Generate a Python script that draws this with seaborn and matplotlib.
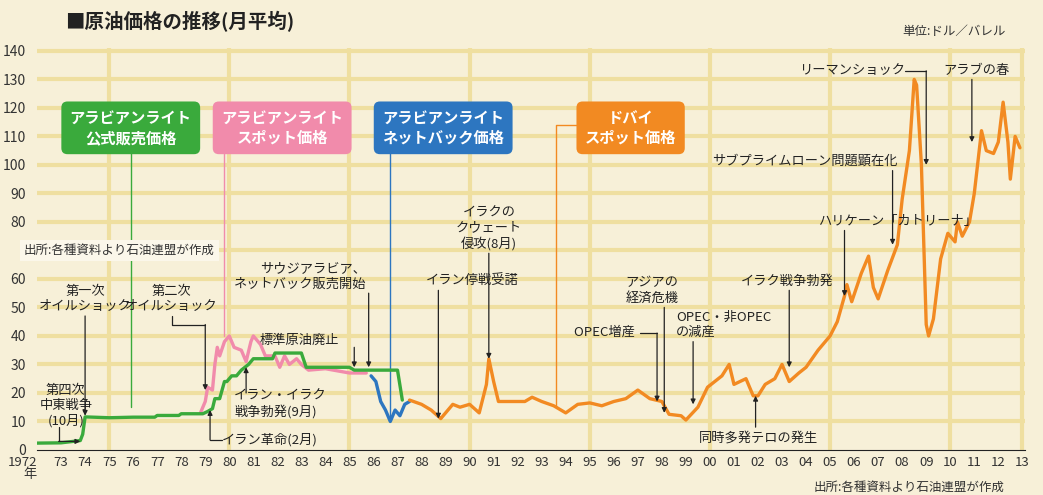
import numpy as np
import pandas as pd
import matplotlib
matplotlib.use("Agg")
import matplotlib.pyplot as plt
import seaborn as sns

# --- data (year, $/barrel) ---
green_x = [1972.0, 1973.0, 1973.5, 1973.8, 1973.9, 1974.0, 1975.0, 1976.0, 1976.9, 1977.0, 1977.9, 1978.0, 1978.9,
           1979.1, 1979.3, 1979.4, 1979.6, 1979.8, 1979.9, 1980.1, 1980.3, 1980.5, 1980.8, 1981.0, 1981.8, 1981.9,
           1983.0, 1983.2, 1985.0, 1985.2, 1987.0, 1987.2]
green_y = [2.4, 2.5, 3.0, 3.3, 5.5, 11.6, 11.3, 11.5, 11.5, 12.1, 12.1, 12.7, 12.7,
           13.5, 14.5, 18.0, 18.0, 24.0, 24.0, 26.0, 26.0, 28.0, 30.0, 32.0, 32.0, 34.0,
           34.0, 29.0, 29.0, 28.0, 28.0, 17.5]
pink_x = [1978.8, 1979.0, 1979.1, 1979.3, 1979.4, 1979.5, 1979.6, 1979.8, 1980.0, 1980.2, 1980.5, 1980.7, 1980.9,
          1981.0, 1981.3, 1981.5, 1981.9, 1982.1, 1982.3, 1982.5, 1982.8, 1983.0, 1983.3, 1984.0, 1985.0, 1985.7]
pink_y = [13, 17, 22, 21, 30, 36, 33, 38, 40, 36, 35, 31, 38,
          40, 37, 33, 33, 29, 33, 30, 32, 30, 28, 28.5, 27, 27]
blue_x = [1985.9, 1986.1, 1986.3, 1986.5, 1986.7, 1986.9, 1987.1, 1987.3, 1987.5]
blue_y = [26, 24, 17, 14, 10, 14, 12, 16, 17]
orange_x = [1987.5, 1988.0, 1988.4, 1988.8, 1989.0, 1989.3, 1989.6, 1990.0, 1990.4, 1990.7, 1990.8, 1991.0,
            1991.2, 1991.6, 1992.0, 1992.3, 1992.6, 1993.0, 1993.5, 1994.0, 1994.5, 1995.0, 1995.5, 1996.0,
            1996.5, 1997.0, 1997.5, 1998.0, 1998.3, 1998.8, 1999.0, 1999.5, 1999.9, 2000.2, 2000.5, 2000.8,
            2001.0, 2001.5, 2001.8, 2002.0, 2002.3, 2002.7, 2003.0, 2003.3, 2003.7, 2004.0, 2004.5, 2005.0,
            2005.3, 2005.6, 2005.7, 2005.9, 2006.3, 2006.6, 2006.8, 2007.0, 2007.4, 2007.8, 2008.0, 2008.3,
            2008.5, 2008.6, 2008.8, 2009.0, 2009.1, 2009.3, 2009.6, 2009.9, 2010.2, 2010.3, 2010.5, 2010.8,
            2011.0, 2011.3, 2011.5, 2011.8, 2012.0, 2012.2, 2012.4, 2012.5, 2012.7, 2012.9]
orange_y = [17.5, 16, 14, 11, 13, 16, 15, 16, 13, 23, 32, 24,
            17, 17, 17, 17, 18.5, 17, 15.5, 13, 16, 16.5, 15.5, 17,
            18, 21, 18, 17, 12.5, 12, 10.5, 15, 22, 24, 26, 30,
            23, 25, 19, 19, 23, 25, 30, 24, 27, 29, 35, 40,
            45, 54, 58, 52, 62, 68, 57, 53, 63, 72, 88, 105,
            130, 128, 100, 44, 40, 46, 67, 76, 73, 80, 75, 80,
            90, 112, 105, 104, 108, 122, 108, 95, 110, 106]

years = list(range(1972, 2014))
year_labels = ["1972\n年"] + [f"{y % 100:02d}" for y in years[1:]]
y_ticks = [0, 10, 20, 30, 40, 50, 60, 80, 90, 100, 110, 120, 130, 140]

GREEN, PINK, BLUE, ORANGE = "#3aaa3c", "#f18bab", "#2d76c0", "#f28a22"
BG = "#f7f0d8"
GRID = "#efdfa0"
INK = "#222222"

sns.set_style("white")
plt.rcParams["font.family"] = ["Noto Sans CJK JP", "DejaVu Sans"]

fig = plt.figure(figsize=(10.43, 4.95), dpi=100, facecolor=BG)
ax = fig.add_axes([0.0355, 0.091, 0.947, 0.812])
ax.set_facecolor(BG)

for xs, ys, c, z in [(pink_x, pink_y, PINK, 3), (green_x, green_y, GREEN, 4),
                     (blue_x, blue_y, BLUE, 3), (orange_x, orange_y, ORANGE, 3)]:
    sns.lineplot(x=xs, y=ys, color=c, lw=2.4, ax=ax, sort=False, zorder=z)

ax.set_xlim(1972, 2013.1)
ax.set_ylim(0, 141)
for v in range(10, 150, 10):
    ax.axhline(v, color=GRID, lw=3, zorder=1)
for v in [1975, 1980, 1985, 1990, 1995, 2000, 2005, 2010, 2013]:
    ax.axvline(v, color=GRID, lw=3, zorder=1)
for s in ["top", "right", "left"]:
    ax.spines[s].set_visible(False)
ax.spines["bottom"].set_color(INK)
ax.set_xticks(years)
ax.set_xticklabels(year_labels, fontsize=9.5, color="#333333")
ax.get_xticklabels()[0].set_horizontalalignment("right")
ax.get_xticklabels()[0].set_linespacing(0.95)
ax.set_yticks(y_ticks)
ax.set_yticklabels([str(v) for v in y_ticks], fontsize=10, color="#333333")
ax.tick_params(axis="x", direction="in", length=7, color=INK, pad=4)
ax.tick_params(axis="y", length=0, pad=8)
ax.set_xlabel("")
ax.set_ylabel("")

fig.text(0.062, 0.978, "■原油価格の推移(月平均)", fontsize=14, fontweight="bold", color=INK, va="top")
fig.text(0.865, 0.93, "単位:ドル／バレル", fontsize=9, color="#333333")
fig.text(0.78, 0.008, "出所:各種資料より石油連盟が作成", fontsize=9, color="#333333")
ax.text(1972.0, 70, "出所:各種資料より石油連盟が作成", fontsize=9, color="#333333", va="center", ha="right",
        bbox=dict(boxstyle="square,pad=0.3", fc="#fbf7ea", ec="none"), zorder=5, clip_on=False).set_x(1979.4)

# legend boxes with connector lines
boxes = [("アラビアンライト\n公式販売価格", 1975.9, GREEN, None, 15),
         ("アラビアンライト\nスポット価格", 1982.2, PINK, 1979.8, 40),
         ("アラビアンライト\nネットバック価格", 1988.9, BLUE, 1986.7, 12),
         ("ドバイ\nスポット価格", 1996.7, ORANGE, 1993.6, 15)]
for txt, bx, c, lx, ly in boxes:
    ax.text(bx, 113, txt, ha="center", va="center", fontsize=11, fontweight="bold", color="white",
            linespacing=1.3, bbox=dict(boxstyle="round,pad=0.55,rounding_size=0.4", fc=c, ec="none"), zorder=6)
    if lx is None:
        ax.plot([bx, bx], [104, ly], color=c, lw=1, zorder=2)
    else:
        ax.plot([bx - 1.5, lx, lx], [114, 114, ly], color=c, lw=1, zorder=2)

fs = 9.5
def path_arrow(pts):
    xs, ys = zip(*pts)
    ax.plot(xs[:-1], ys[:-1], color=INK, lw=0.9, zorder=7)
    ax.annotate("", xy=pts[-1], xytext=pts[-2],
                arrowprops=dict(arrowstyle="-|>", color=INK, lw=0.9, mutation_scale=7, shrinkA=0, shrinkB=0), zorder=7)

def label(x, y, t, ha="center", va="bottom"):
    ax.text(x, y, t, ha=ha, va=va, fontsize=fs, color=INK, linespacing=1.2, zorder=7)

label(1973.2, 8, "第四次\n中東戦争\n(10月)")
path_arrow([(1972.9, 8), (1972.9, 3), (1973.8, 3)])
label(1974.0, 48, "第一次\nオイルショック")
path_arrow([(1974.0, 47), (1974.0, 12)])
label(1977.6, 48, "第二次\nオイルショック")
path_arrow([(1977.6, 47), (1977.6, 44), (1979.0, 44), (1979.0, 21)])
label(1982.9, 36, "標準原油廃止")
path_arrow([(1985.2, 36), (1985.2, 29)])
label(1985.7, 56, "サウジアラビア、\nネットバック販売開始", ha="right")
path_arrow([(1985.8, 55), (1985.8, 29)])
label(1990.1, 57, "イラン停戦受諾")
path_arrow([(1988.7, 56), (1988.7, 11)])
label(1990.8, 70, "イラクの\nクウェート\n侵攻(8月)")
path_arrow([(1990.8, 69), (1990.8, 32)])
label(1980.2, 11, "イラン・イラク\n戦争勃発(9月)", ha="left")
path_arrow([(1980.7, 20), (1980.7, 29)])
label(1979.7, 3.5, "イラン革命(2月)", ha="left", va="center")
path_arrow([(1979.7, 3.5), (1979.2, 3.5), (1979.2, 14)])
label(1997.6, 51, "アジアの\n経済危機")
path_arrow([(1998.1, 50), (1998.1, 13)])
label(1997.0, 39, "OPEC増産 ", ha="right")
path_arrow([(1997.1, 41), (1997.8, 41), (1997.8, 17)])
label(1998.6, 39, "OPEC・非OPEC\nの減産", ha="left")
path_arrow([(1999.3, 38), (1999.3, 16)])
label(2001.3, 57, "イラク戦争勃発", ha="left")
path_arrow([(2003.3, 56), (2003.3, 29)])
label(2004.5, 78, "ハリケーン「カトリーナ」", ha="left")
path_arrow([(2005.6, 77), (2005.6, 54)])
label(2007.8, 99, "サブプライムローン問題顕在化", ha="right")
path_arrow([(2007.6, 98), (2007.6, 72)])
label(2011.1, 131, "アラブの春")
path_arrow([(2010.9, 130), (2010.9, 108)])
label(2008.1, 133, "リーマンショック", ha="right", va="center")
path_arrow([(2008.1, 133), (2009.0, 133), (2009.0, 100)])
label(2002.0, 4, "同時多発テロの発生", va="center")
path_arrow([(2001.9, 8), (2001.9, 19)])

fig.savefig("out.png", dpi=100, facecolor=BG)
